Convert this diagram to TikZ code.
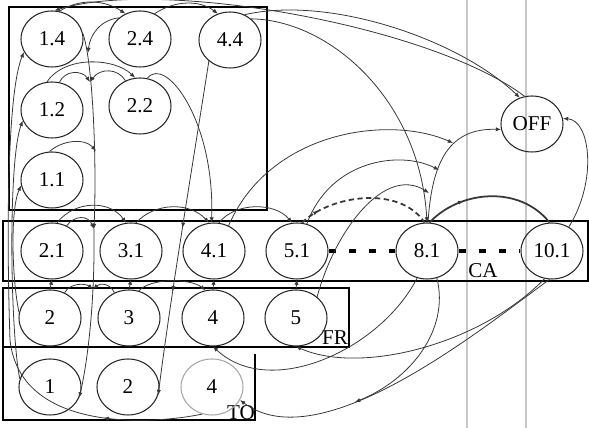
\documentclass[tikz,border=0pt]{standalone}
\usepackage{fontspec}
\setmainfont{Liberation Serif}
\usetikzlibrary{shapes.geometric, arrows.meta, decorations.markings}
\definecolor{guidegray}{RGB}{200, 200, 200}
\definecolor{linkgray}{RGB}{55, 55, 55}

\begin{document}
\begin{tikzpicture}[
    x=0.02cm, y=-0.02cm,
    statenode/.style={
        ellipse, draw=black!85, line width=0.6pt, inner sep=0pt,
        minimum width=1.24cm, minimum height=1.12cm, font=\fontsize{12}{14}\selectfont
    },
    ghostnode/.style={statenode, draw=black!35},
    groupbox/.style={draw=black, line width=0.8pt},
    grouplabel/.style={font=\fontsize{12}{14}\selectfont, inner sep=0pt},
    guide/.style={draw=guidegray, line width=0.6pt},
    link/.style={-{Latex[length=3pt, width=2.4pt]}, draw=linkgray, line width=0.45pt},
    plainlink/.style={draw=linkgray, line width=0.45pt},
    onarrow/.style={postaction={decorate, decoration={markings,
        mark=at position #1 with {\arrow{Latex[length=3pt, width=2.4pt]}}}}},
    gapline/.style={draw=black, line width=1.8pt, dash pattern=on 4pt off 7.5pt}
]
    \useasboundingbox (0,0) rectangle (589,428);

    \draw [guide] (467,0) -- (467,428);
    \draw [guide] (526,0) -- (526,428);

    \draw [groupbox] (9,7) rectangle (267,210);
    \draw [groupbox] (3,221) rectangle (588,281);
    \draw [groupbox] (3,288) rectangle (349,347);
    \draw [groupbox] (255,354) -- (255,420) -- (3,420) -- (3,347);

    \node [grouplabel] (calabel) at (483,271) {CA};
    \node [grouplabel] (frlabel) at (335,338) {FR};
    \node [grouplabel] (tolabel) at (241,413) {TO};

    \node [statenode] (n14) at (52,39)  {1.4};
    \node [statenode] (n24) at (140,39) {2.4};
    \node [statenode] (n44) at (230,40) {4.4};
    \node [statenode] (n12) at (52,110) {1.2};
    \node [statenode] (n22) at (140,106) {2.2};
    \node [statenode] (n11) at (52,180) {1.1};

    \node [statenode] (ca21)  at (52,251)  {2.1};
    \node [statenode] (ca31)  at (131,251) {3.1};
    \node [statenode] (ca41)  at (214,251) {4.1};
    \node [statenode] (ca51)  at (297,251) {5.1};
    \node [statenode] (ca81)  at (427,251) {8.1};
    \node [statenode] (ca101) at (552,251) {10.1};

    \node [statenode] (fr2) at (50,318)  {2};
    \node [statenode] (fr3) at (129,318) {3};
    \node [statenode] (fr4) at (213,318) {4};
    \node [statenode] (fr5) at (296,318) {5};

    \node [statenode]  (to1) at (50,387)  {1};
    \node [statenode]  (to2) at (128,387) {2};
    \node [ghostnode]  (to4) at (212,387) {4};

    \node [statenode] (off) at (532,124) {OFF};

    \coordinate (j82)  at (90,82);
    \coordinate (j150) at (96,151);
    \coordinate (j228) at (94,229);
    \coordinate (j289) at (93,289);
    \coordinate (j143) at (453,143);
    \coordinate (j170) at (439,170);
    \coordinate (j193) at (429,193);
    \coordinate (j402) at (355,402);

    \draw [gapline] (ca51.east) -- (ca81.west);
    \draw [gapline] (ca81.east) -- (ca101.west);

    \draw [link] (n14.75) .. controls (80,-2) and (105,0) .. (n24.120);
    \draw [link] (n24.60) .. controls (175,0) and (200,0) .. (n44.115);
    \draw [link] (off.105) .. controls (430,25) and (160,-22) .. (n14.85);
    \draw [link] (n44.60) .. controls (330,-5) and (460,40) .. (off.115);
    \draw [link] (n44.45) .. controls (330,20) and (420,100) .. (ca81.north);
    \draw [link] (n24.135) .. controls (100,20) and (90,35) .. (88,53);
    \draw [link] (n14.10) .. controls (92,60) and (97,150) .. (j228);
    \draw [link] (j228) .. controls (95,300) and (88,360) .. (to1.-20);
    \draw [link] (n12.100) .. controls (65,55) and (115,58) .. (n22.100);
    \draw [link] (n12.75) .. controls (65,70) and (82,70) .. (j82);
    \draw [link] (n22.120) .. controls (118,68) and (100,68) .. (j82);
    \draw [link] (n22.75) .. controls (165,55) and (215,120) .. (ca41.95);
    \draw [link] (n11.95) .. controls (62,140) and (85,138) .. (j150);
    \draw [link, onarrow=0.5, onarrow=0.69] (n44.225) .. controls (195,150) and (170,300) .. (to2.-15);

    \draw [link, onarrow=0.19] (to4.250) .. controls (150,425) and (20,432) .. (10,340)
        .. controls (6,220) and (8,90) .. (n14.205);
    \draw [link] (to1.165) .. controls (10,330) and (8,160) .. (n12.200);
    \draw [link] (fr2.170) .. controls (12,280) and (10,210) .. (n11.190);

    \draw [link] (ca21.80) .. controls (75,200) and (110,200) .. (ca31.100);
    \draw [link] (ca21.60) .. controls (75,215) and (88,215) .. (j228);
    \draw [link] (ca31.80) .. controls (155,202) and (190,202) .. (ca41.100);
    \draw [link] (ca41.80) .. controls (235,202) and (275,202) .. (ca51.100);
    \draw [link] (ca41.60) .. controls (270,130) and (390,115) .. (j143);
    \draw [link] (ca51.70) .. controls (330,160) and (400,150) .. (j170);
    \draw [link] (fr5.45) .. controls (335,230) and (385,165) .. (j193);

    \draw [plainlink, line width=1pt, dash pattern=on 3pt off 2pt, onarrow=0.15]
        (ca51.80) .. controls (330,195) and (400,185) .. (ca81.95);
    \draw [plainlink, line width=1pt, onarrow=0.3]
        (ca81.85) .. controls (460,190) and (520,185) .. (ca101.95);
    \draw [link] (ca81.88) .. controls (432,160) and (450,128) .. (off.190);
    \draw [link] (ca101.55) .. controls (598,180) and (590,120) .. (off.10);

    \draw [link] (fr2.north) -- (ca21.south);
    \draw [link] (fr3.north) -- (ca31.south);
    \draw [link] (fr4.north) -- (ca41.south);
    \draw [link] (fr5.north) -- (ca51.south);
    \draw [link] (fr2.60) .. controls (70,283) and (85,283) .. (j289);
    \draw [link] (fr3.120) .. controls (110,283) and (100,283) .. (j289);
    \draw [link] (fr3.70) .. controls (150,278) and (190,278) .. (fr4.105);

    \draw [link] (ca101.255) .. controls (480,345) and (360,375) .. (fr5.south);
    \draw [link] (ca101.265) .. controls (480,330) and (320,460) .. (to4.-25);
    \draw [link] (ca81.-70) .. controls (450,330) and (410,380) .. (j402);
    \draw [link] (ca81.-110) .. controls (380,350) and (270,400) .. (fr4.south);
\end{tikzpicture}
\end{document}
